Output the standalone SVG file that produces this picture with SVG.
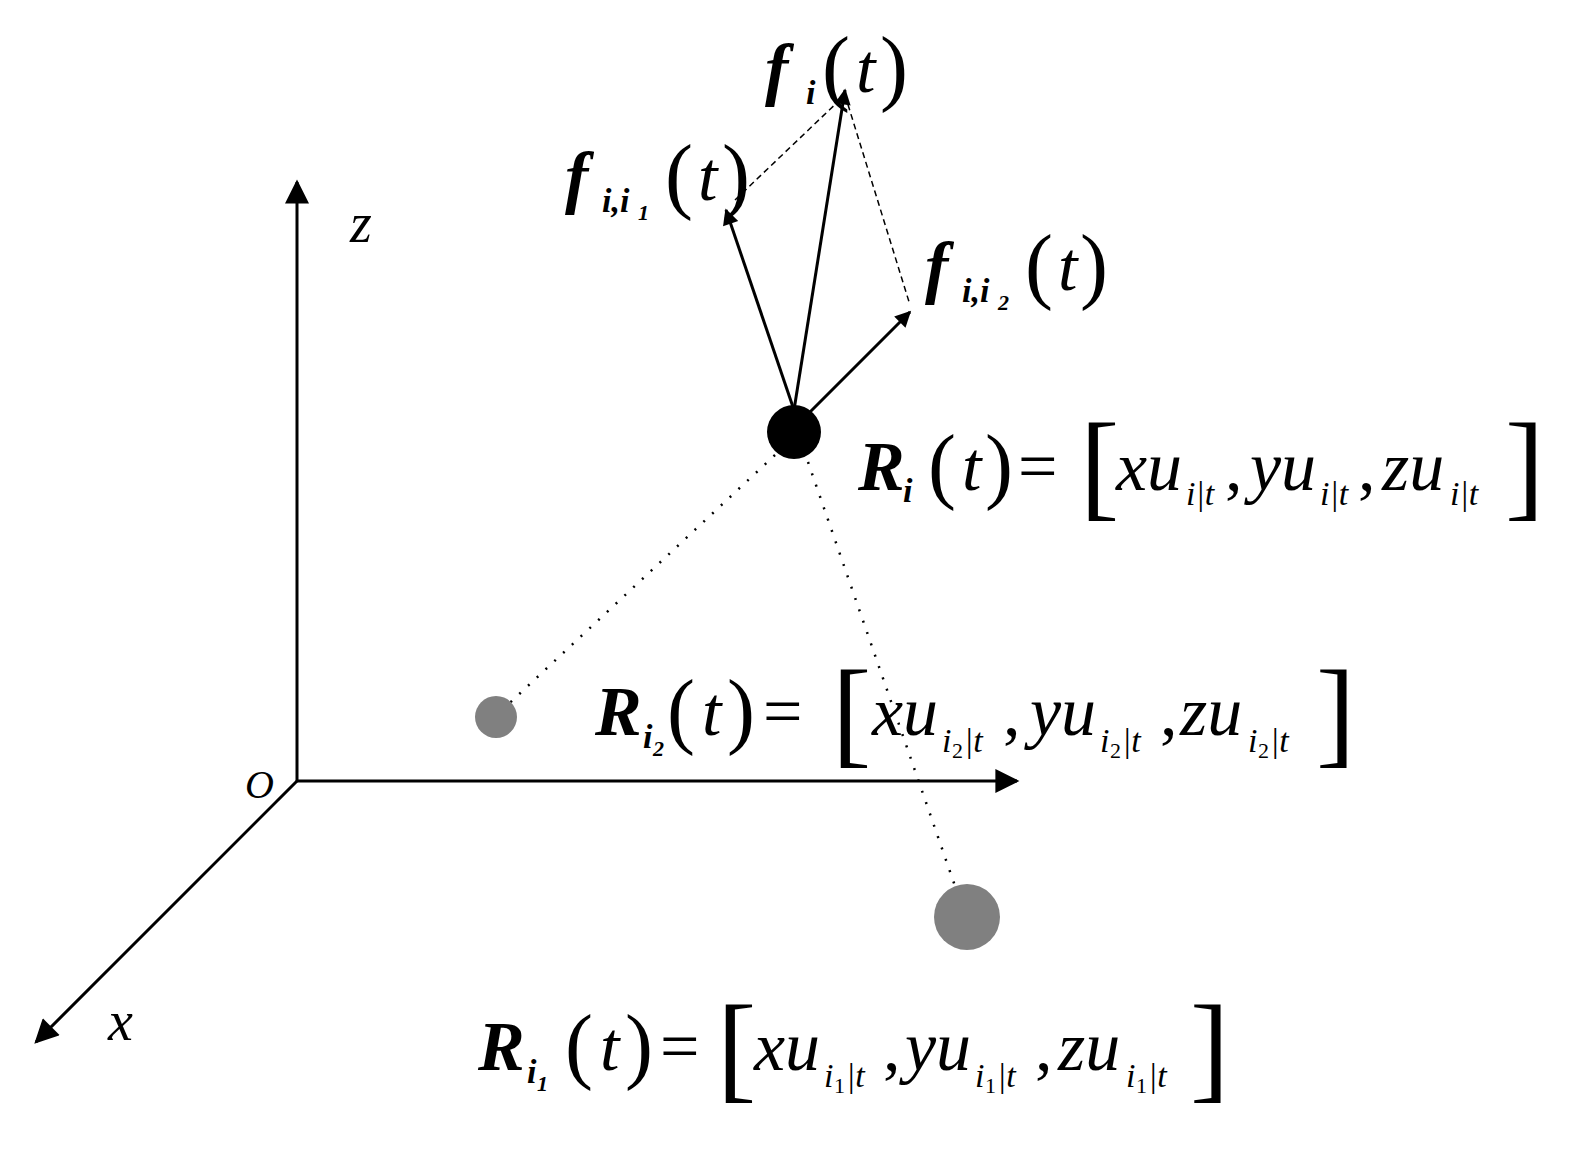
<svg xmlns="http://www.w3.org/2000/svg" width="1590" height="1156" viewBox="0 0 1590 1156">
<style>
text{font-family:"Liberation Serif","Times New Roman","DejaVu Serif",serif;fill:#000}
.b{font-weight:bold;font-style:italic}
.i{font-style:italic}
.ax{stroke:#000;stroke-width:3;fill:none}
.v{stroke:#000;stroke-width:3;fill:none}
.d{stroke:#000;stroke-width:1.5;stroke-dasharray:6 4;fill:none}
.o{stroke:#000;stroke-width:2.5;stroke-dasharray:2 10;fill:none}
.big{font-size:70px}
.p{font-size:84px}
.k{font-size:118px;font-weight:100}
.s{font-size:34px}
.ss{font-size:22px}
</style>
<defs>
<marker id="ax" viewBox="0 0 10 10" refX="9" refY="5" markerWidth="28" markerHeight="24" markerUnits="userSpaceOnUse" orient="auto"><path d="M0,0 L10,5 L0,10 z" fill="#000"/></marker>
<marker id="vh" viewBox="0 0 10 10" refX="9" refY="5" markerWidth="20" markerHeight="16" markerUnits="userSpaceOnUse" orient="auto"><path d="M0,0 L10,5 L0,10 z" fill="#000"/></marker>
</defs>
<g id="connectors">
<line class="ax" x1="297" y1="781" x2="297" y2="182" marker-end="url(#ax)"/>
<line class="ax" x1="297" y1="781" x2="1017" y2="781" marker-end="url(#ax)"/>
<line class="ax" x1="297" y1="781" x2="36" y2="1042" marker-end="url(#ax)"/>
<line class="v" x1="794" y1="410" x2="726" y2="210" marker-end="url(#vh)"/>
<line class="v" x1="794" y1="410" x2="845" y2="90" marker-end="url(#vh)"/>
<line class="v" x1="808" y1="414" x2="910" y2="312" marker-end="url(#vh)"/>
<line class="d" x1="735" y1="200" x2="845" y2="95"/>
<line class="d" x1="845" y1="95" x2="910" y2="305"/>
<line class="o" x1="775" y1="455" x2="500" y2="712"/>
<line class="o" x1="808" y1="462" x2="964" y2="912"/>
</g>
<g id="Ri"><circle cx="794" cy="432" r="27" fill="#000"/>
<text class="b big" x="858" y="490">R</text><text class="b s" x="903" y="502">i</text>
<text class="p" x="928" y="493">(</text><text class="i big" x="962" y="490">t</text><text class="p" x="985" y="493">)</text>
<text class="big" x="1018" y="490">=</text><text class="k" x="1080" y="505">[</text>
<text class="i big" x="1116" y="490">xu</text><text class="i s" x="1186" y="505">i|t</text><text class="big" x="1225" y="490">,</text>
<text class="i big" x="1250" y="490">yu</text><text class="i s" x="1320" y="505">i|t</text><text class="big" x="1358" y="490">,</text>
<text class="i big" x="1382" y="490">zu</text><text class="i s" x="1450" y="505">i|t</text><text class="k" x="1505" y="505">]</text></g>
<g id="Ri2"><circle cx="496" cy="717" r="21" fill="#808080"/>
<text class="b big" x="595" y="735">R</text><text class="b s" x="643" y="748">i</text><text class="b ss" x="653" y="756">2</text>
<text class="p" x="667" y="738">(</text><text class="i big" x="702" y="735">t</text><text class="p" x="727" y="738">)</text>
<text class="big" x="763" y="735">=</text><text class="k" x="832" y="752">[</text>
<text class="i big" x="872" y="735">xu</text><text class="i s" x="942" y="752">i</text><text class="ss" x="952" y="758">2</text><text class="i s" x="964" y="752">|t</text><text class="big" x="1003" y="735">,</text>
<text class="i big" x="1030" y="735">yu</text><text class="i s" x="1100" y="752">i</text><text class="ss" x="1110" y="758">2</text><text class="i s" x="1122" y="752">|t</text><text class="big" x="1160" y="735">,</text>
<text class="i big" x="1180" y="735">zu</text><text class="i s" x="1248" y="752">i</text><text class="ss" x="1258" y="758">2</text><text class="i s" x="1270" y="752">|t</text><text class="k" x="1316" y="752">]</text></g>
<g id="Ri1"><circle cx="967" cy="917" r="33" fill="#808080"/>
<text class="b big" x="478" y="1070">R</text><text class="b s" x="527" y="1083">i</text><text class="b ss" x="537" y="1091">1</text>
<text class="p" x="565" y="1073">(</text><text class="i big" x="600" y="1070">t</text><text class="p" x="625" y="1073">)</text>
<text class="big" x="660" y="1070">=</text><text class="k" x="717" y="1087">[</text>
<text class="i big" x="754" y="1070">xu</text><text class="i s" x="824" y="1087">i</text><text class="ss" x="834" y="1093">1</text><text class="i s" x="846" y="1087">|t</text><text class="big" x="883" y="1070">,</text>
<text class="i big" x="905" y="1070">yu</text><text class="i s" x="975" y="1087">i</text><text class="ss" x="985" y="1093">1</text><text class="i s" x="997" y="1087">|t</text><text class="big" x="1035" y="1070">,</text>
<text class="i big" x="1058" y="1070">zu</text><text class="i s" x="1126" y="1087">i</text><text class="ss" x="1136" y="1093">1</text><text class="i s" x="1148" y="1087">|t</text><text class="k" x="1190" y="1087">]</text></g>
<g id="fi"><text class="b big" x="765" y="92">f</text><text class="b s" x="806" y="104">i</text>
<text class="p" x="822" y="95">(</text><text class="i big" x="856" y="92">t</text><text class="p" x="880" y="95">)</text></g>
<g id="fi1"><text class="b big" x="565" y="200">f</text><text class="b s" x="602" y="212">i,i</text><text class="b ss" x="638" y="220">1</text>
<text class="p" x="665" y="203">(</text><text class="i big" x="698" y="200">t</text><text class="p" x="722" y="203">)</text></g>
<g id="fi2"><text class="b big" x="925" y="290">f</text><text class="b s" x="962" y="302">i,i</text><text class="b ss" x="998" y="310">2</text>
<text class="p" x="1025" y="293">(</text><text class="i big" x="1058" y="290">t</text><text class="p" x="1080" y="293">)</text></g>
<text class="i" x="350" y="242" font-size="56">z</text>
<text class="i" x="245" y="798" font-size="40">O</text>
<text class="i" x="108" y="1040" font-size="56">x</text>
</svg>
